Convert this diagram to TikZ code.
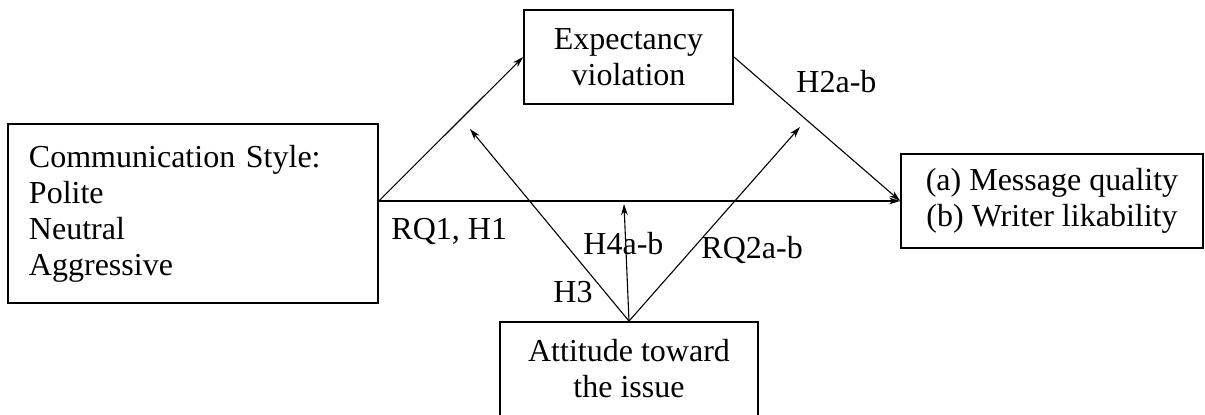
\documentclass[tikz,border=0pt]{standalone}
\usepackage{fontspec}
\setmainfont{Liberation Serif}
\usetikzlibrary{arrows.meta}

\tikzset{
    boxnode/.style={draw, line width=0.8pt, align=center, inner sep=0pt},
    link/.style={->, line width=0.5pt},
    lbl/.style={anchor=base west, inner sep=0pt}
}

\begin{document}
\begin{tikzpicture}[x=0.453pt, y=-0.453pt, >={Stealth[length=5pt, width=3pt, inset=1.5pt]},
        font=\fontsize{14.5}{16.3}\selectfont]
        \clip (0,0) rectangle (1205,415);

        % boxes
        \node[boxnode, align=left, text width=148.6pt, inner xsep=9.5pt,
              minimum height=81.1pt] (comm) at (193,213.5)
              {Communication Style:\\Polite\\Neutral\\Aggressive};
        \node[boxnode, minimum width=94.7pt, minimum height=42.6pt] (expv) at (628.5,57)
              {Expectancy\\violation};
        \node[boxnode, minimum width=136.8pt, minimum height=42.6pt] (outc) at (1052,201)
              {(a) Message quality\\(b) Writer likability};
        \node[boxnode, minimum width=116.9pt, minimum height=42.6pt] (attd) at (629,369)
              {Attitude toward\\the issue};

        % loose ends of the moderation arrows
        \coordinate (modA) at (470,129);
        \coordinate (modB) at (624,204);
        \coordinate (modC) at (800,127);

        % arrows
        \draw[link] (comm.east |- outc.west) -- (expv.west);
        \draw[link] (comm.east |- outc.west) -- (outc.west);
        \draw[link] (expv.east) -- (outc.west);
        \draw[link] (attd.north) -- (modA);
        \draw[link] (attd.north) -- (modB);
        \draw[link] (attd.north) -- (modC);

        % labels
        \node[lbl] (lRQ1) at (391,240) {RQ1, H1};
        \node[lbl] (lH3) at (553,303) {H3};
        \node[lbl] (lH4) at (583,255) {H4a-b};
        \node[lbl] (lRQ2) at (701,259) {RQ2a-b};
        \node[lbl] (lH2) at (796,93) {H2a-b};

\end{tikzpicture}
\end{document}
